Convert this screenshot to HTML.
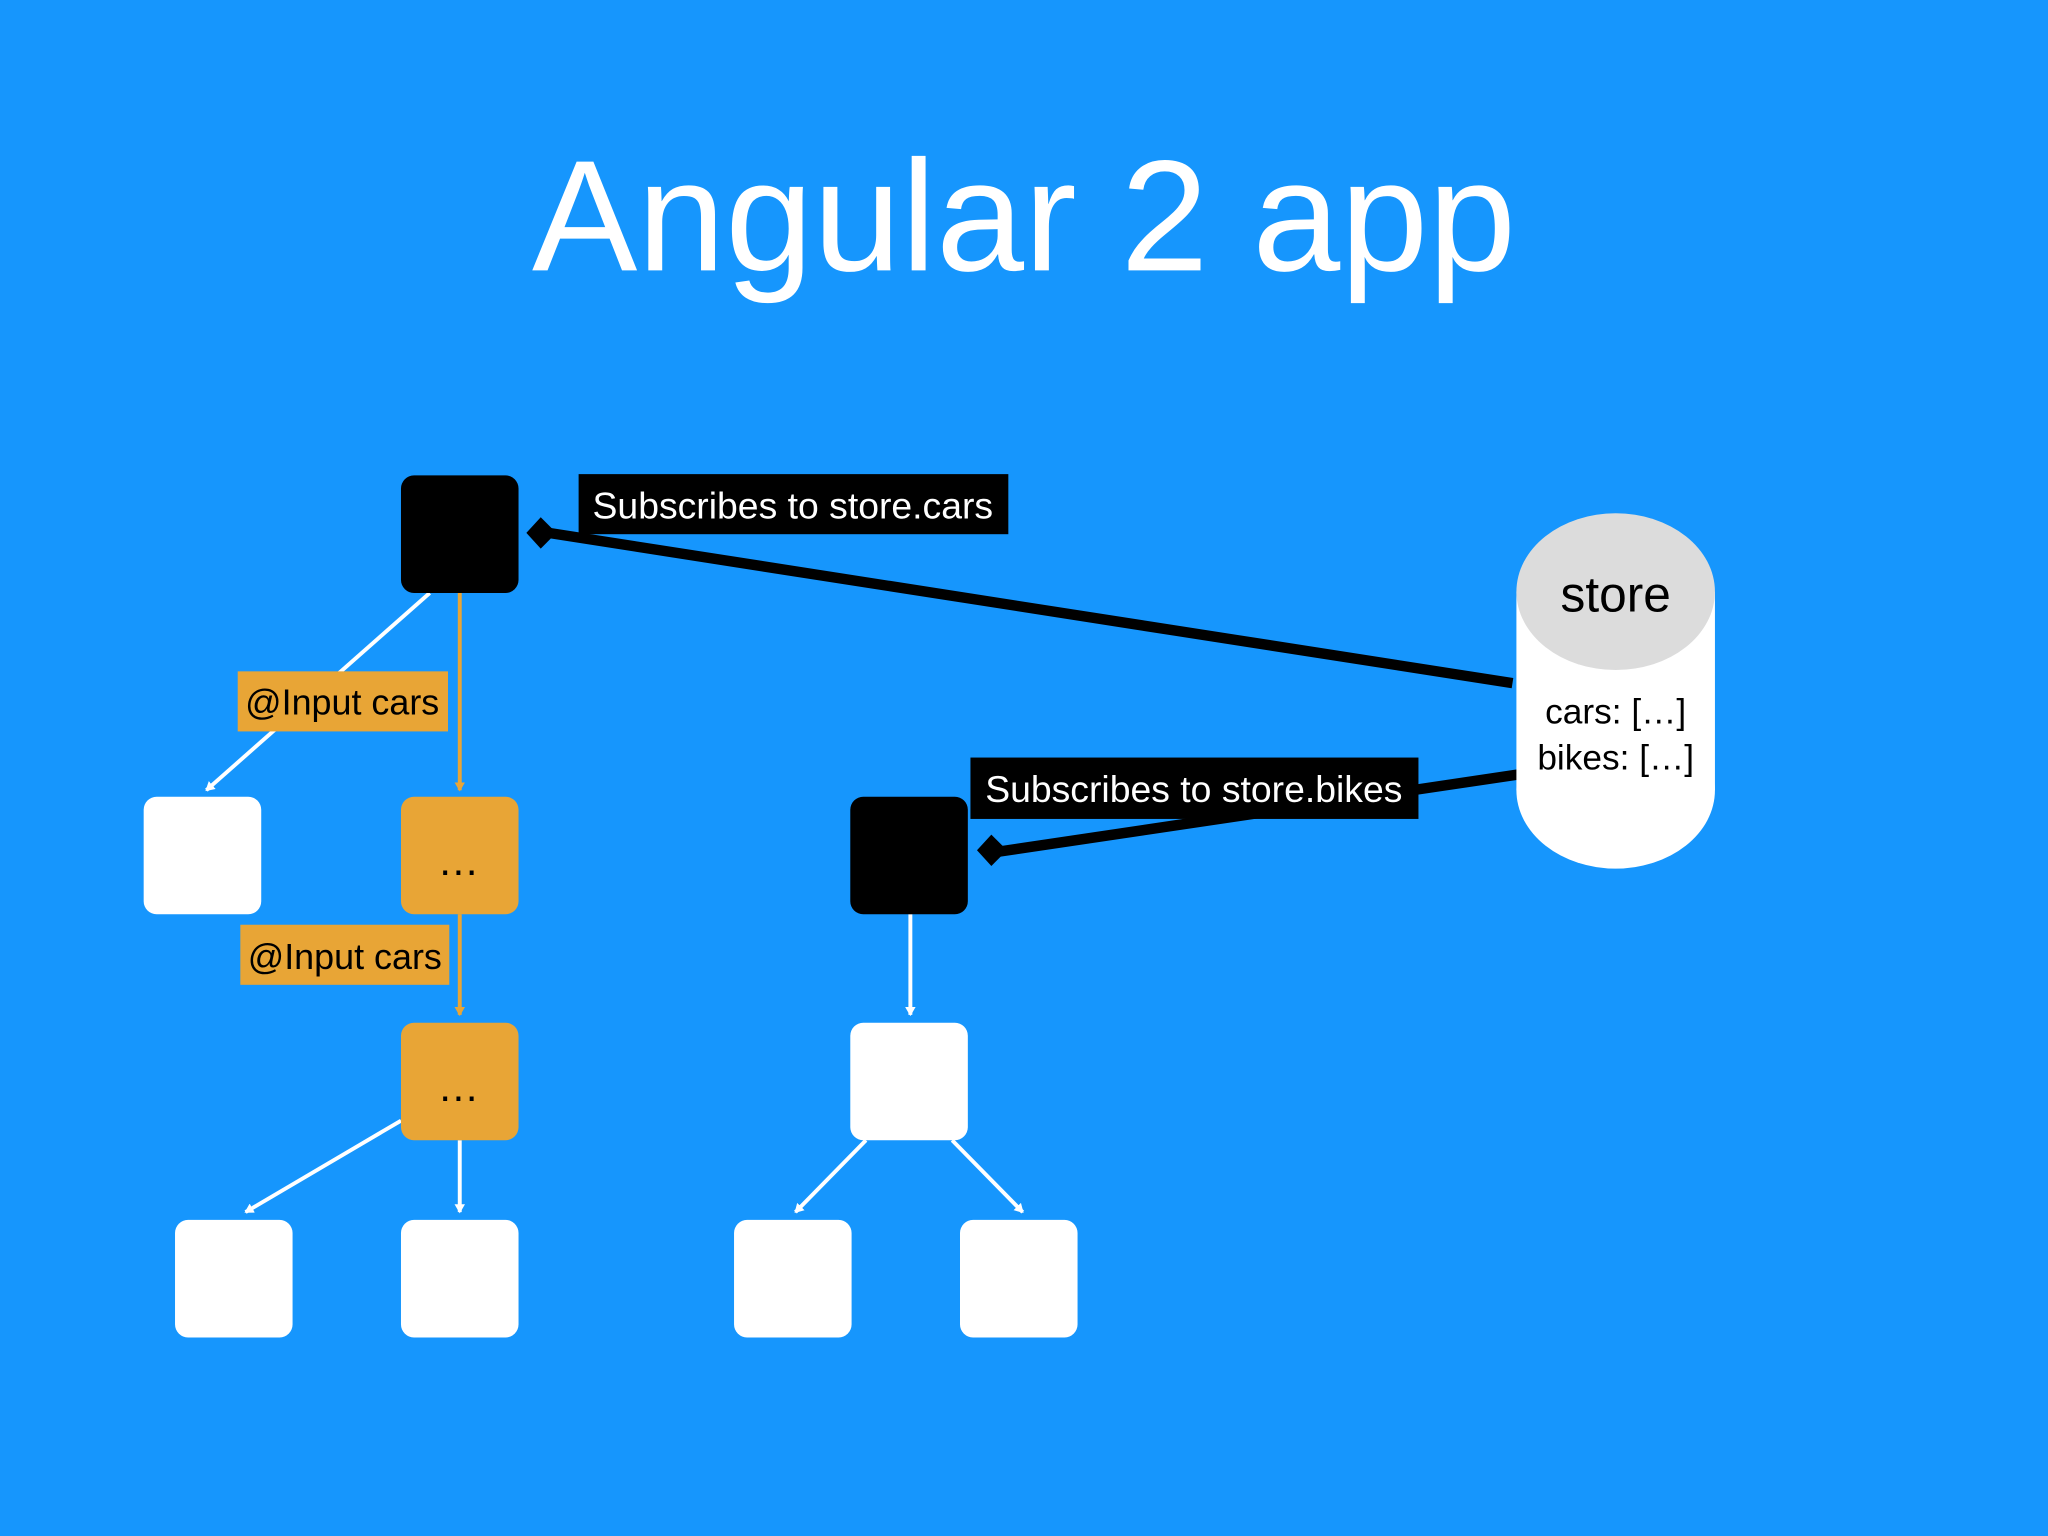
<!DOCTYPE html>
<html><head><meta charset="utf-8"><style>
html,body{margin:0;padding:0;background:#1696fd;}
svg{display:block;}
text{font-family:"Liberation Sans",Arial,sans-serif;}
</style></head><body>
<svg width="2048" height="1536" viewBox="0 0 1568 1176" xmlns="http://www.w3.org/2000/svg">
<defs>
<marker id="aw" markerWidth="8" markerHeight="8" refX="6" refY="4" orient="auto" markerUnits="userSpaceOnUse"><path d="M0,0 L7,4 L0,8 z" fill="#fff"/></marker>
<marker id="ao" markerWidth="8" markerHeight="8" refX="6" refY="4" orient="auto" markerUnits="userSpaceOnUse"><path d="M0,0 L7,4 L0,8 z" fill="#e8a536"/></marker>
</defs>
<rect width="1568" height="1176" fill="#1696fd"/>
<text x="784" y="207" font-size="121" fill="#fff" text-anchor="middle">Angular 2 app</text>

<line x1="1158" y1="523" x2="420" y2="408" stroke="#000" stroke-width="8"/>
<path d="M403,408 L414,396 L426,408 L414,420 z" fill="#000"/>
<line x1="1162" y1="593" x2="765" y2="652" stroke="#000" stroke-width="8"/>
<path d="M748,651 L759,639 L771,651 L759,663 z" fill="#000"/>

<rect x="1161" y="453" width="152" height="152" fill="#fff"/>
<ellipse cx="1237" cy="605" rx="76" ry="60" fill="#fff"/>
<ellipse cx="1237" cy="453" rx="76" ry="60" fill="#dcdcdc"/>
<text x="1237" y="468" font-size="38" text-anchor="middle" fill="#000">store</text>
<text x="1237" y="554" font-size="27" text-anchor="middle" fill="#000">cars: […]</text>
<text x="1237" y="589" font-size="27" text-anchor="middle" fill="#000">bikes: […]</text>

<line x1="329" y1="454" x2="158" y2="605" stroke="#fff" stroke-width="3" marker-end="url(#aw)"/>
<line x1="352" y1="454" x2="352" y2="605" stroke="#e8a536" stroke-width="3" marker-end="url(#ao)"/>
<line x1="352" y1="700" x2="352" y2="777" stroke="#e8a536" stroke-width="3" marker-end="url(#ao)"/>
<line x1="307" y1="858" x2="188" y2="928" stroke="#fff" stroke-width="3" marker-end="url(#aw)"/>
<line x1="352" y1="873" x2="352" y2="928" stroke="#fff" stroke-width="3" marker-end="url(#aw)"/>

<rect x="307" y="364" width="90" height="90" rx="10" fill="#000"/>
<rect x="110" y="610" width="90" height="90" rx="10" fill="#fff"/>
<rect x="307" y="610" width="90" height="90" rx="10" fill="#e8a536"/>
<text x="352" y="670" font-size="32" text-anchor="middle" fill="#000" letter-spacing="2">…</text>
<rect x="307" y="783" width="90" height="90" rx="10" fill="#e8a536"/>
<text x="352" y="843" font-size="32" text-anchor="middle" fill="#000" letter-spacing="2">…</text>
<rect x="134" y="934" width="90" height="90" rx="10" fill="#fff"/>
<rect x="307" y="934" width="90" height="90" rx="10" fill="#fff"/>

<rect x="182" y="514" width="161" height="46" fill="#e8a536"/>
<text x="262" y="547" font-size="27.5" text-anchor="middle" fill="#000">@Input cars</text>
<rect x="184" y="708" width="160" height="46" fill="#e8a536"/>
<text x="264" y="742" font-size="27.5" text-anchor="middle" fill="#000">@Input cars</text>

<line x1="697" y1="700" x2="697" y2="777" stroke="#fff" stroke-width="3" marker-end="url(#aw)"/>
<line x1="663" y1="873" x2="609" y2="928" stroke="#fff" stroke-width="3" marker-end="url(#aw)"/>
<line x1="729" y1="873" x2="783" y2="928" stroke="#fff" stroke-width="3" marker-end="url(#aw)"/>
<rect x="651" y="610" width="90" height="90" rx="10" fill="#000"/>
<rect x="651" y="783" width="90" height="90" rx="10" fill="#fff"/>
<rect x="562" y="934" width="90" height="90" rx="10" fill="#fff"/>
<rect x="735" y="934" width="90" height="90" rx="10" fill="#fff"/>

<rect x="443" y="363" width="329" height="46" fill="#000"/>
<text x="607" y="397" font-size="28.6" text-anchor="middle" fill="#fff">Subscribes to store.cars</text>
<rect x="743" y="580" width="343" height="47" fill="#000"/>
<text x="914" y="614" font-size="28.6" text-anchor="middle" fill="#fff">Subscribes to store.bikes</text>
</svg>
</body></html>
